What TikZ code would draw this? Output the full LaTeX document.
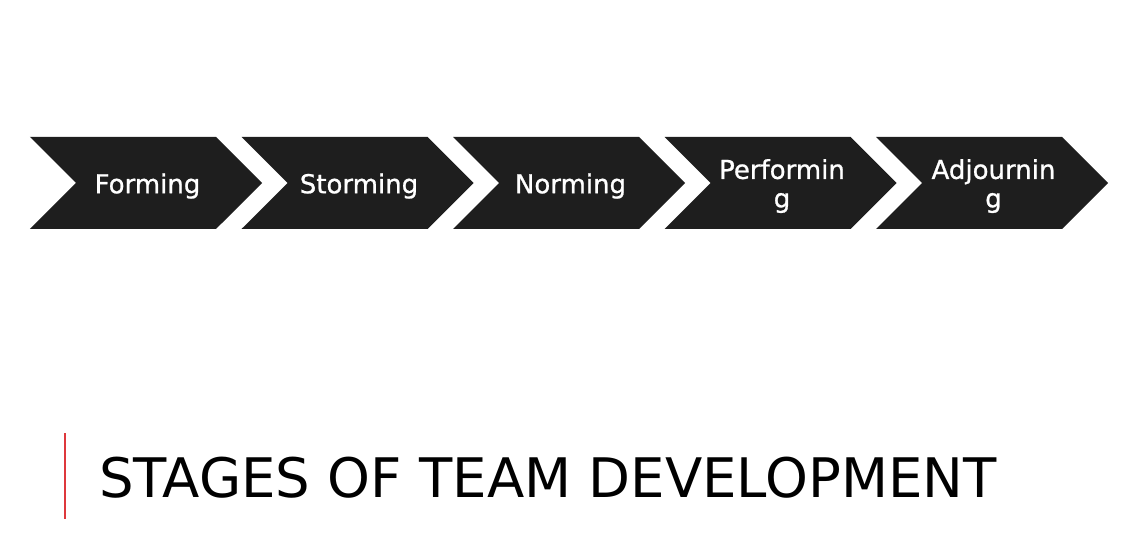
\documentclass[tikz,border=0pt]{standalone}
\usepackage{fontspec}
\setmainfont{DejaVu Sans}
\newfontfamily\stagefont[FakeBold=0.9]{DejaVu Sans}
\usetikzlibrary{shapes.symbols,positioning}
\definecolor{chevron}{RGB}{30,30,30}
\definecolor{accentred}{RGB}{222,56,60}
\newcommand\stagelabel[1]{\hspace*{3bp}\raisebox{-4.5bp}[\height][\depth]{\begin{tabular}{@{}c@{}}#1\end{tabular}}}

\begin{document}
\begin{tikzpicture}[x=1bp,y=-1bp]
    \tikzstyle{stagenode} = [signal, signal from=west, signal to=east, signal pointer angle=90,
      fill=chevron, text=white, inner sep=0pt, minimum width=232bp, minimum height=92bp,
      font=\stagefont\fontsize{26bp}{28.7bp}\selectfont]
    \useasboundingbox (0,0) rectangle (1133,544);
    \node[stagenode] (forming) at (146,183) {\stagelabel{Forming}};
    \node[stagenode] (storming) at (357.5,183) {\stagelabel{Storming}};
    \node[stagenode] (norming) at (569,183) {\stagelabel{Norming}};
    \node[stagenode] (performing) at (780.5,183) {\stagelabel{Performin\\g}};
    \node[stagenode] (adjourning) at (992,183) {\stagelabel{Adjournin\\g}};
    % title with red bar
    \draw[accentred, line width=2bp] (64.5,433) -- (64.5,519);
    \node[anchor=base west, inner sep=0pt, font=\fontsize{54.5bp}{66bp}\selectfont] (title) at (99,497) {STAGES OF TEAM DEVELOPMENT};
\end{tikzpicture}
\end{document}
